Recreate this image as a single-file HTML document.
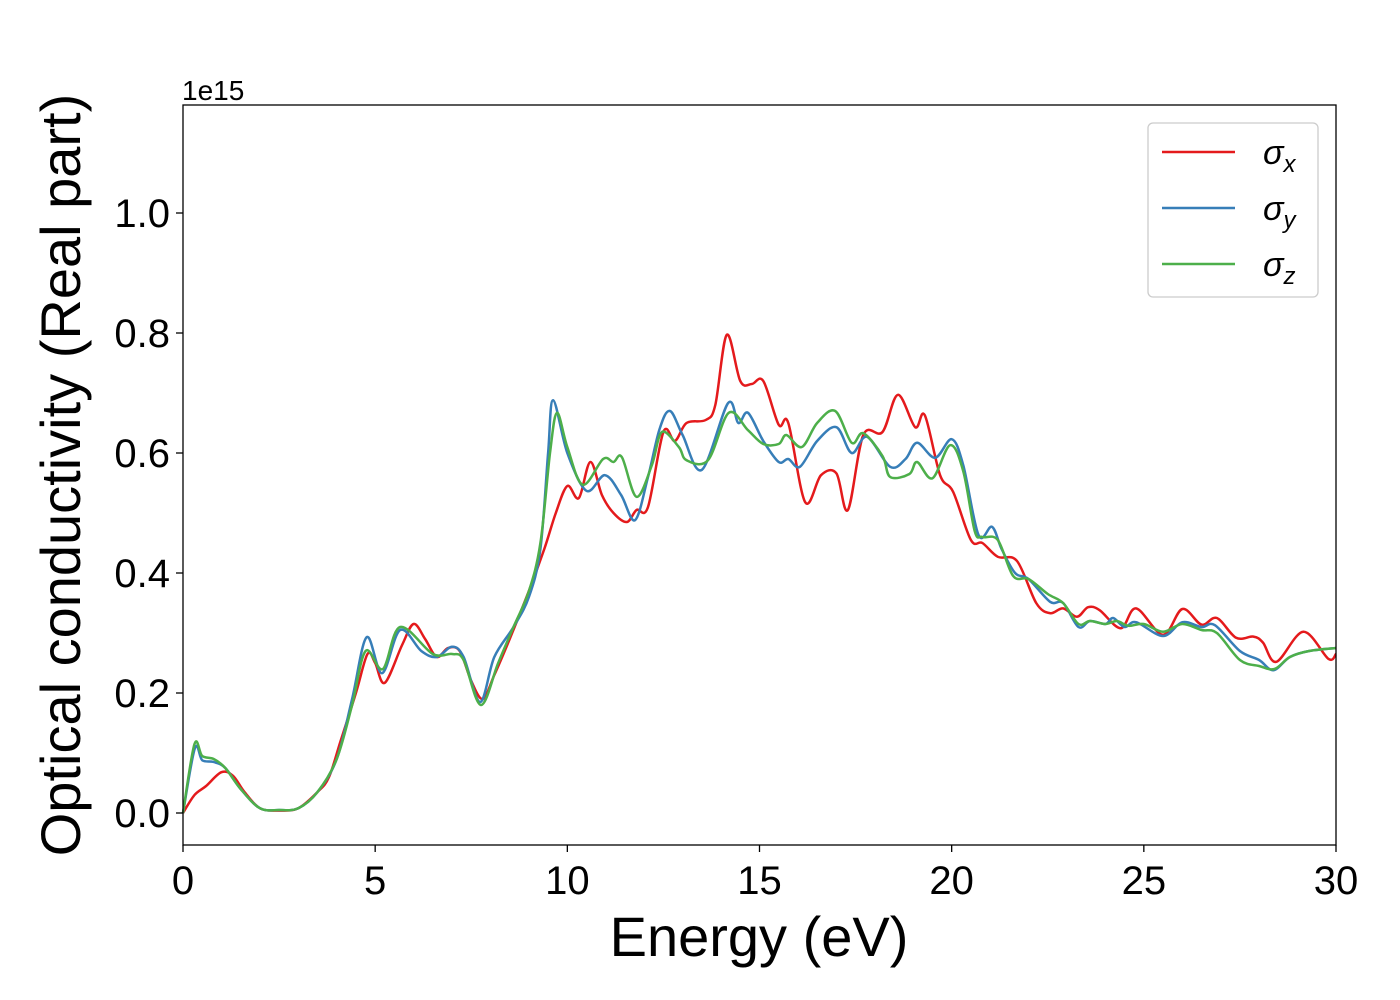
<!DOCTYPE html>
<html><head><meta charset="utf-8">
<style>
body{margin:0;background:#fff;}
svg{display:block;font-family:"Liberation Sans","DejaVu Sans",sans-serif;}
</style></head>
<body>
<svg id="chart" width="1400" height="1000" viewBox="0 0 1400 1000" xmlns="http://www.w3.org/2000/svg">
<rect x="0" y="0" width="1400" height="1000" fill="#fff"/>
<g id="series"></g>
<rect x="183" y="105" width="1153" height="740" fill="none" stroke="#000" stroke-width="1.3"/>
<g id="xticks"></g>
<g id="yticks"></g>
<text x="182" y="100" font-size="28">1e15</text>
<text x="759" y="956" font-size="56" text-anchor="middle">Energy (eV)</text>
<text transform="translate(80,475) rotate(-90)" font-size="56" text-anchor="middle">Optical conductivity (Real part)</text>
<g>
<rect x="1148" y="123" width="170" height="174" rx="5" fill="#fff" stroke="#ccc" stroke-width="1.3"/>
<line x1="1162" y1="152" x2="1235" y2="152" stroke="#e41a1c" stroke-width="2.5"/>
<text x="1263" y="164" font-size="34" font-style="italic">σ<tspan font-size="24" dy="8">x</tspan></text>
<line x1="1162" y1="208" x2="1235" y2="208" stroke="#377eb8" stroke-width="2.5"/>
<text x="1263" y="220" font-size="34" font-style="italic">σ<tspan font-size="24" dy="8">y</tspan></text>
<line x1="1162" y1="264" x2="1235" y2="264" stroke="#4daf4a" stroke-width="2.5"/>
<text x="1263" y="276" font-size="34" font-style="italic">σ<tspan font-size="24" dy="8">z</tspan></text>
</g>
</svg>
<script>
const xTickValues=[0,5,10,15,20,25,30];
const yTickValues=[0.0,0.2,0.4,0.6,0.8,1.0];
const yTickLabels=["0.0","0.2","0.4","0.6","0.8","1.0"];
const sigmaXEnergy=[0,0.3,0.6,1.0,1.3,1.6,2.0,2.5,3.0,3.5,3.8,4.1,4.5,4.8,5.0,5.25,5.7,6.0,6.3,6.6,6.9,7.2,7.5,7.8,8.1,8.5,9.0,9.4,9.7,10.0,10.3,10.6,10.9,11.2,11.55,11.8,12.1,12.5,12.8,13.1,13.6,13.85,14.15,14.5,14.8,15.1,15.5,15.75,16.19,16.6,17.0,17.3,17.7,18.2,18.6,19.05,19.3,19.7,20.04,20.5,20.8,21.2,21.7,22.2,22.56,22.9,23.26,23.55,23.85,24.4,24.8,25.5,26.0,26.5,26.9,27.4,27.85,28.1,28.45,29.15,29.8,30];
const sigmaXValues=[0,0.03,0.045,0.068,0.062,0.035,0.008,0.004,0.008,0.035,0.06,0.12,0.2,0.265,0.25,0.217,0.28,0.315,0.29,0.26,0.275,0.27,0.22,0.19,0.23,0.29,0.37,0.44,0.5,0.545,0.525,0.585,0.53,0.5,0.485,0.505,0.51,0.635,0.62,0.65,0.655,0.68,0.797,0.72,0.715,0.72,0.647,0.65,0.518,0.563,0.566,0.505,0.63,0.635,0.697,0.643,0.663,0.563,0.535,0.455,0.45,0.427,0.42,0.35,0.333,0.341,0.327,0.343,0.338,0.308,0.341,0.297,0.34,0.314,0.325,0.292,0.294,0.284,0.252,0.302,0.257,0.265];
const sigmaYEnergy=[0,0.31,0.5,0.8,1.1,1.5,2.0,2.5,3.0,3.5,4.0,4.4,4.78,5.18,5.65,6.2,6.6,7.0,7.3,7.73,8.1,8.6,9.0,9.3,9.5,9.63,10.0,10.5,10.98,11.4,11.76,12.1,12.4,12.67,13.0,13.5,14.18,14.45,14.7,15.1,15.5,15.75,16.05,16.5,17.0,17.4,17.8,18.4,18.8,19.1,19.57,20.0,20.3,20.7,21.05,21.3,21.65,22.0,22.56,22.9,23.3,23.6,24.0,24.2,24.5,24.8,25.5,26.0,26.5,26.85,27.5,28.0,28.37,28.8,29.3,30];
const sigmaYValues=[0,0.108,0.088,0.085,0.075,0.04,0.008,0.005,0.008,0.035,0.09,0.19,0.293,0.233,0.305,0.27,0.26,0.277,0.26,0.185,0.26,0.31,0.36,0.44,0.6,0.688,0.6,0.537,0.563,0.53,0.488,0.56,0.64,0.67,0.63,0.572,0.683,0.65,0.667,0.62,0.585,0.59,0.577,0.62,0.643,0.6,0.627,0.577,0.59,0.617,0.592,0.623,0.58,0.463,0.477,0.44,0.4,0.39,0.352,0.35,0.31,0.32,0.315,0.325,0.31,0.318,0.295,0.318,0.31,0.313,0.27,0.255,0.238,0.26,0.27,0.275];
const sigmaZEnergy=[0,0.3,0.5,0.8,1.1,1.5,2.0,2.5,3.0,3.5,4.0,4.4,4.75,5.2,5.65,6.5,7.0,7.3,7.75,8.2,8.6,9.0,9.3,9.55,9.73,10.0,10.4,10.93,11.2,11.42,11.8,12.2,12.46,12.9,13.1,13.66,14.2,14.7,15.1,15.5,15.7,16.1,16.5,16.97,17.4,17.7,18.2,18.4,18.9,19.1,19.5,19.96,20.3,20.6,20.8,21.2,21.6,22.0,22.5,22.9,23.3,23.6,24.0,24.3,24.6,25.0,25.5,26.0,26.5,26.9,27.5,28.0,28.4,28.8,29.3,30];
const sigmaZValues=[0,0.115,0.095,0.09,0.075,0.04,0.008,0.005,0.008,0.035,0.09,0.18,0.27,0.24,0.31,0.265,0.265,0.255,0.18,0.25,0.31,0.37,0.45,0.6,0.667,0.61,0.547,0.59,0.585,0.593,0.527,0.58,0.635,0.61,0.588,0.588,0.667,0.638,0.615,0.615,0.63,0.61,0.65,0.67,0.617,0.633,0.595,0.56,0.565,0.585,0.558,0.613,0.57,0.47,0.46,0.455,0.395,0.39,0.365,0.35,0.315,0.32,0.315,0.32,0.312,0.315,0.302,0.315,0.305,0.3,0.255,0.245,0.24,0.26,0.27,0.275];

const X0=183,X1=1336,Y0=813,YPX=600;
function xScale(e){return X0+(X1-X0)*e/30;}
function yScale(v){return Y0-v*YPX;}
const NS="http://www.w3.org/2000/svg";
function pathFrom(es,vs){
  const p=es.map((e,i)=>[xScale(e),yScale(vs[i])]);
  let d="M"+p[0][0].toFixed(1)+","+p[0][1].toFixed(1);
  for(let i=0;i<p.length-1;i++){
    const a=p[Math.max(0,i-1)],b=p[i],c=p[i+1],n=p[Math.min(p.length-1,i+2)];
    const c1=[b[0]+(c[0]-a[0])/6,b[1]+(c[1]-a[1])/6];
    const c2=[c[0]-(n[0]-b[0])/6,c[1]-(n[1]-b[1])/6];
    d+="C"+c1[0].toFixed(1)+","+c1[1].toFixed(1)+" "+c2[0].toFixed(1)+","+c2[1].toFixed(1)+" "+c[0].toFixed(1)+","+c[1].toFixed(1);
  }
  return d;
}
const sg=document.getElementById("series");
[[sigmaXEnergy,sigmaXValues,"#e41a1c","sigma-x-line"],[sigmaYEnergy,sigmaYValues,"#377eb8","sigma-y-line"],[sigmaZEnergy,sigmaZValues,"#4daf4a","sigma-z-line"]].forEach(s=>{
  const el=document.createElementNS(NS,"path");
  el.setAttribute("d",pathFrom(s[0],s[1]));
  el.setAttribute("fill","none");
  el.setAttribute("stroke",s[2]);
  el.setAttribute("stroke-width","2.5");
  
  
  sg.appendChild(el);
});
const xg=document.getElementById("xticks");
xTickValues.forEach(v=>{
  const x=xScale(v);
  const t=document.createElementNS(NS,"line");
  t.setAttribute("x1",x);t.setAttribute("x2",x);t.setAttribute("y1",845);t.setAttribute("y2",852);
  t.setAttribute("stroke","#000");t.setAttribute("stroke-width","1.3");
  
  
  xg.appendChild(t);
  const l=document.createElementNS(NS,"text");
  l.setAttribute("x",x);l.setAttribute("y",894);l.setAttribute("font-size","40");l.setAttribute("text-anchor","middle");
  l.textContent=String(v);
  
  
  xg.appendChild(l);
});
const yg=document.getElementById("yticks");
yTickValues.forEach((v,i)=>{
  const y=yScale(v);
  const t=document.createElementNS(NS,"line");
  t.setAttribute("x1",176);t.setAttribute("x2",183);t.setAttribute("y1",y);t.setAttribute("y2",y);
  t.setAttribute("stroke","#000");t.setAttribute("stroke-width","1.3");
  
  
  yg.appendChild(t);
  const l=document.createElementNS(NS,"text");
  l.setAttribute("x",170);l.setAttribute("y",y+14);l.setAttribute("font-size","40");l.setAttribute("text-anchor","end");
  l.textContent=yTickLabels[i];
  
  
  yg.appendChild(l);
});
</script>
</body></html>
